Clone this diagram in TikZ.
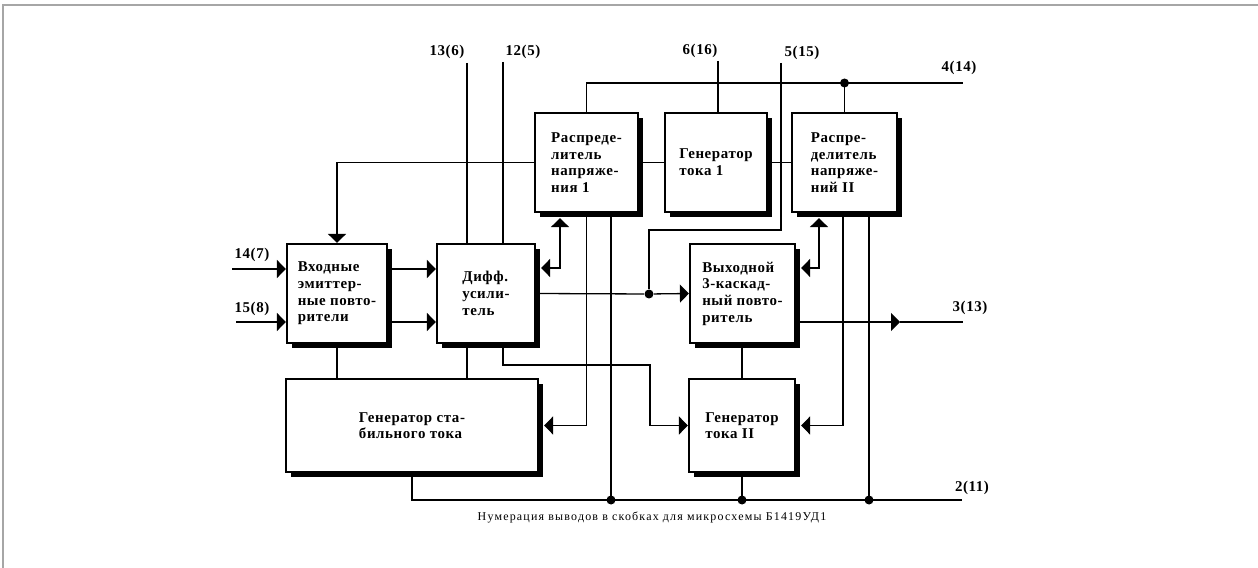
\documentclass[tikz,border=0pt]{standalone}
\usepackage{fontspec}
\setmainfont{Liberation Serif}
\newfontfamily\podpis[LetterSpace=10]{Liberation Serif}
\newfontfamily\zhirn[LetterSpace=4]{Liberation Serif}
\usetikzlibrary{arrows.meta,shadows}

\tikzset{
  blok/.style={draw,line width=2.2bp,fill=white,align=left,inner sep=0pt,
    font=\zhirn\bfseries\fontsize{15}{16.7}\selectfont,
    drop shadow={shadow xshift=5bp,shadow yshift=-5bp,opacity=1,fill=black}},
  vyvod/.style={font=\zhirn\bfseries\fontsize{15}{16}\selectfont},
  tip/.style={-{Triangle[length=9bp,width=18bp]}},
  dvatip/.style={{Triangle[length=9bp,width=18bp]}-{Triangle[length=9bp,width=18bp]}},
  tochka/.style={circle,fill,inner sep=0pt,minimum size=9bp},
}

\begin{document}
\begin{tikzpicture}[x=1bp,y=-1bp,line width=1.3bp]
\useasboundingbox (0,0) rectangle (1258,568);
\draw[gray!70,line width=1.5bp] (3,568) -- (3,5) -- (1258,5);

% blocks
\node[blok,minimum width=100bp,minimum height=99bp] (vkh) at (337,293.5)
  {Входные\\эмиттер-\\ные повто-\\рители};
\node[blok,minimum width=98bp,minimum height=99bp] (diff) at (486,293.5)
  {Дифф.\\усили-\\тель};
\node[blok,minimum width=103bp,minimum height=99bp] (rasp1) at (586.5,162.5)
  {Распреде-\\литель\\напряже-\\ния 1};
\node[blok,minimum width=102bp,minimum height=99bp] (gen1) at (716,162.5)
  {Генератор\\тока 1};
\node[blok,minimum width=105bp,minimum height=99bp] (rasp2) at (844.5,162.5)
  {Распре-\\делитель\\напряже-\\ний II};
\node[blok,minimum width=105bp,minimum height=99bp] (vykh) at (742.5,293.5)
  {Выходной\\3-каскад-\\ный повто-\\ритель};
\node[blok,minimum width=252bp,minimum height=93bp] (genst) at (412,425.5)
  {Генератор ста-\\бильного тока};
\node[blok,minimum width=106bp,minimum height=93bp] (gen2) at (742,425.5)
  {Генератор\\тока II};

% pins
\node[vyvod] (l13) at (447,52) {13(6)};
\node[vyvod] (l12) at (523,52) {12(5)};
\node[vyvod] (l6) at (700,51) {6(16)};
\node[vyvod] (l5) at (802,53) {5(15)};
\node[vyvod] (l4) at (959,68) {4(14)};
\node[vyvod] (l14) at (252,255) {14(7)};
\node[vyvod] (l15) at (252,309) {15(8)};
\node[vyvod] (l3) at (970,308) {3(13)};
\node[vyvod] (l2) at (972,488) {2(11)};
\coordinate (p13) at (467,63);
\coordinate (p12) at (503,62);
\coordinate (p6) at (718,61);
\coordinate (p5) at (781,63);
\coordinate (p4) at (963,83);
\coordinate (p14) at (232,269);
\coordinate (p15) at (236,322);
\coordinate (p3) at (963,322);
\coordinate (s3) at (900,322);
\coordinate (p2) at (962,500);
\coordinate (u1) at (650,365);

% top bus
\draw (rasp1.north) |- (p4);
\draw (rasp2.north) -- (rasp2.north |- p4) node[tochka] (t4) {};
\draw (p6) -- (p6 |- gen1.north);
\draw (gen1.west) -- (rasp1.east);
\draw (gen1.east) -- (rasp2.west);
\draw[tip] (rasp1.west) -| (vkh.north);

% inputs
\draw (p13) -- (p13 |- diff.north);
\draw (p12) -- (p12 |- diff.north);
\draw[tip] (p14) -- (p14 -| vkh.west);
\draw[tip] (p15) -- (p15 -| vkh.west);
\draw[tip] (p14 -| vkh.east) -- (p14 -| diff.west);
\draw[tip] (p15 -| vkh.east) -- (p15 -| diff.west);

% middle
\node[tochka] (t1) at (649,294) {};
\draw (p5) -- ++(0,167) -| (t1);
\draw (diff.east) -- (t1);
\draw[tip] (t1) -- (vykh.west);
\draw[dvatip,shorten <=5bp,shorten >=5bp] ([xshift=-26.5bp]rasp1.south) |- ([yshift=25.5bp]diff.east);
\draw[dvatip,shorten <=5bp,shorten >=5bp] ([xshift=-25.5bp]rasp2.south) |- ([yshift=25.5bp]vykh.east);
\draw[tip] (vykh.east |- p3) -- (s3);
\draw (s3) -- (p3);

% lower part
\draw (vkh.south) -- (vkh.south |- genst.north);
\draw (p13 |- diff.south) -- (p13 |- genst.north);
\draw[tip] (p12 |- diff.south) |- (u1) |- (gen2.west);
\draw[tip,shorten >=5bp] (rasp1.south) |- (genst.east);
\draw[tip,shorten >=5bp] ([xshift=-1.5bp]rasp2.south) |- (gen2.east);
\draw (vykh.south) -- (vykh.south -| gen2.north) -- (gen2.north);

% bottom bus
\draw (genst.south) |- (p2);
\draw ([xshift=24.5bp]rasp1.south) -- ([xshift=24.5bp]rasp1.south |- p2) node[tochka] (t2a) {};
\draw ([xshift=24.5bp]rasp2.south) -- ([xshift=24.5bp]rasp2.south |- p2) node[tochka] (t2c) {};
\draw (gen2.south) -- (gen2.south |- p2) node[tochka] (t2b) {};

\node[font=\podpis\fontsize{12}{14}\selectfont] (cap) at (652,518)
  {Нумерация выводов в скобках для микросхемы Б1419УД1};
\end{tikzpicture}
\end{document}
